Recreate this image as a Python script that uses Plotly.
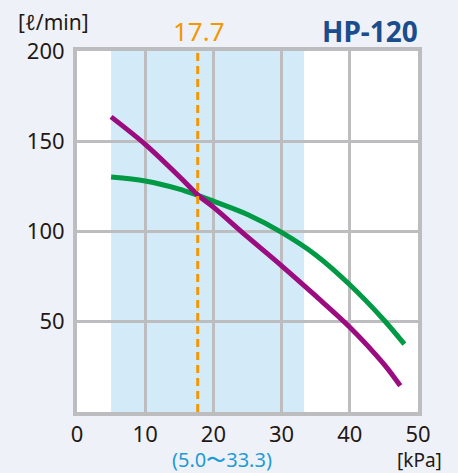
import plotly.graph_objects as go

# Data
green_x = [5, 10, 15, 17.7, 20, 25, 30, 35, 40, 45, 48]
green_y = [130.2, 128, 123.5, 120, 116.8, 109.4, 99.5, 87, 70.5, 51, 37.6]
magenta_x = [5, 10, 15, 17.7, 20, 25, 30, 35, 40, 45, 47.4]
magenta_y = [163.5, 148.3, 130.5, 120.3, 113.5, 97, 81, 64.3, 47, 26.5, 14.5]
band_range = [5.0, 33.3]
marker_value = 17.7
x_ticks = [0, 10, 20, 30, 40, 50]
y_ticks = [50, 100, 150, 200]

FONT = "Noto Sans"
TXT = "#231815"

# plot area in pixels (for placing annotations)
L, R, T, B = 77, 418, 51, 412


def px(xpix):
    return (xpix - L) / (R - L)


def py(ypix):
    return (B - ypix) / (B - T)


fig = go.Figure()
fig.add_trace(go.Scatter(x=green_x, y=green_y, mode="lines",
                         line=dict(color="#009944", width=5, shape="spline", smoothing=0.9),
                         hoverinfo="skip", showlegend=False))
fig.add_trace(go.Scatter(x=magenta_x, y=magenta_y, mode="lines",
                         line=dict(color="#9a0c80", width=5, shape="spline", smoothing=0.9),
                         hoverinfo="skip", showlegend=False))

fig.add_shape(type="rect", xref="x", yref="y", x0=band_range[0], x1=band_range[1],
              y0=0, y1=200, fillcolor="#d3eaf8", line=dict(width=0), layer="below")
fig.add_shape(type="line", xref="x", yref="y", x0=marker_value, x1=marker_value,
              y0=0, y1=200, line=dict(color="#f39800", width=3, dash="8px,5px"),
              layer="above")

fig.add_annotation(x=px(199), y=py(31), xref="paper", yref="paper",
                   text=str(marker_value), showarrow=False, xanchor="center", yanchor="middle",
                   font=dict(family=FONT, size=26, color="#f39800"))
fig.add_annotation(x=px(370), y=py(31), xref="paper", yref="paper",
                   text="<b>HP-120</b>", showarrow=False, xanchor="center", yanchor="middle",
                   font=dict(family=FONT, size=28, color="#1b4c8c"))
fig.add_annotation(x=px(53), y=py(22), xref="paper", yref="paper",
                   text="[ℓ/min]", showarrow=False, xanchor="center", yanchor="middle",
                   font=dict(family=FONT, size=21, color=TXT))
fig.add_annotation(x=px(222), y=py(459.6), xref="paper", yref="paper",
                   text="(%.1f〜%.1f)" % tuple(band_range), showarrow=False,
                   xanchor="center", yanchor="middle", borderpad=0,
                   font=dict(family=FONT, size=20, color="#1e9bd7"))
fig.add_annotation(x=px(419), y=py(460), xref="paper", yref="paper",
                   text="[kPa]", showarrow=False, xanchor="center", yanchor="middle",
                   borderpad=0, font=dict(family=FONT, size=19, color=TXT))

fig.update_xaxes(range=[0, 50], tickvals=x_ticks, showgrid=True, gridcolor="#bdbdbf",
                 gridwidth=3, showline=True, linecolor="#bdbdbf", linewidth=4, mirror=True,
                 zeroline=False, ticks="", ticklabelstandoff=0,
                 tickfont=dict(family=FONT, size=22, color=TXT))
fig.update_yaxes(range=[0, 200], tickvals=y_ticks, showgrid=True, gridcolor="#bdbdbf",
                 gridwidth=3, showline=True, linecolor="#bdbdbf", linewidth=4, mirror=True,
                 zeroline=False, ticks="", ticklabelstandoff=4,
                 tickfont=dict(family=FONT, size=22, color=TXT))

fig.update_layout(width=458, height=473, margin=dict(l=L, r=458 - R, t=T, b=473 - B),
                  paper_bgcolor="#eef2f8", plot_bgcolor="#ffffff")

fig.write_html("out.html", config={"displayModeBar": False},
               post_script="document.body.style.margin='0px';")
